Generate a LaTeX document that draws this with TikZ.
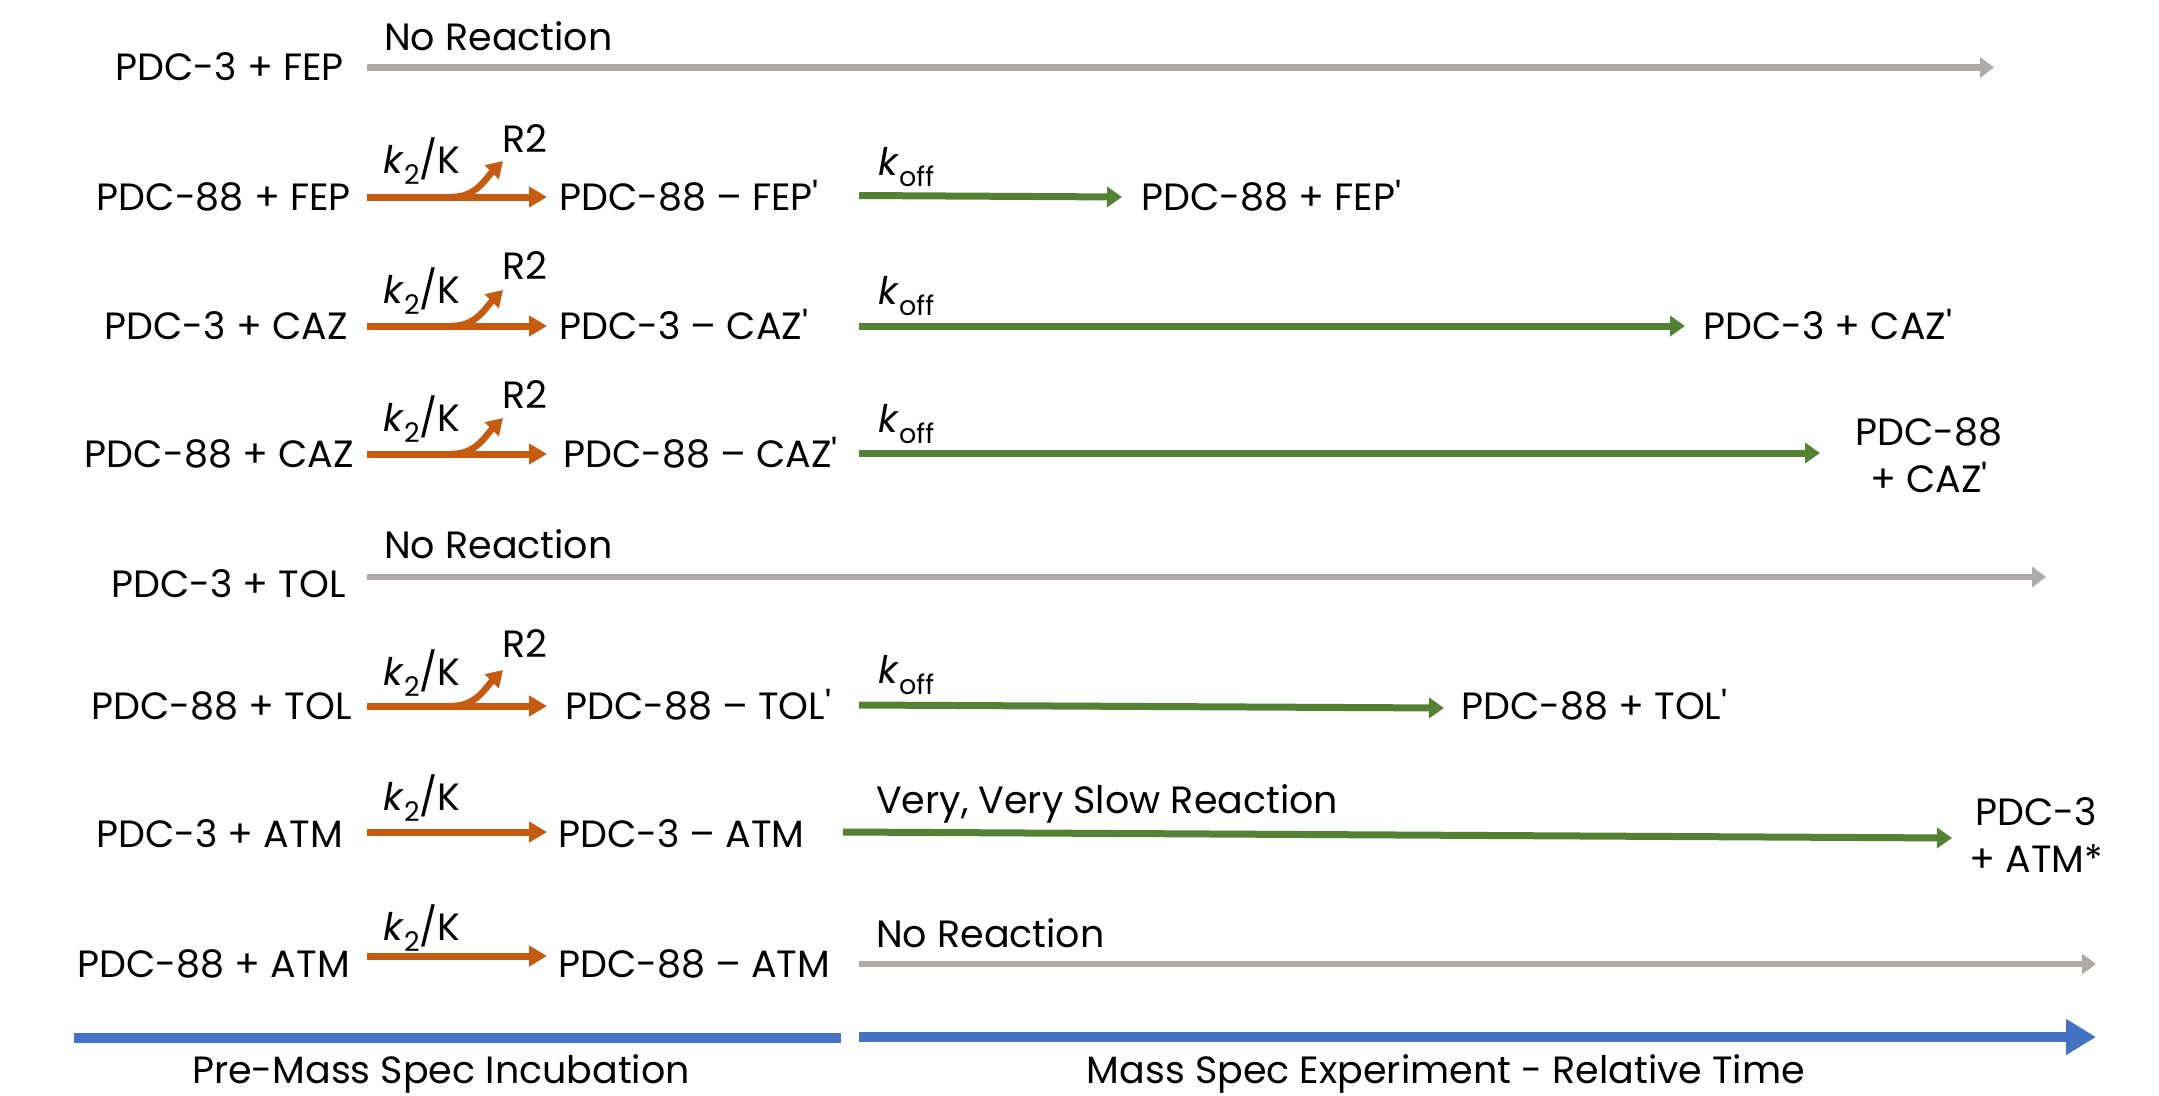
\documentclass[tikz,border=0pt]{standalone}
\usepackage{fontspec}
\setmainfont{Poppins}[Ligatures=TeXOff]
\usetikzlibrary{arrows.meta}
\definecolor{cOr}{HTML}{C55A11}
\definecolor{cGr}{HTML}{548235}
\definecolor{cGy}{HTML}{AEAAAA}
\definecolor{cBl}{HTML}{4472C4}
\newcommand\kk[1]{\textit{k}\raisebox{-0.3em}{\fontsize{27}{27}\selectfont #1}}
\tikzset{
  txt/.style={font=\fontsize{38}{46}\selectfont, inner sep=0pt, text height=27pt, text depth=0pt},
  grayarr/.style={draw=cGy, line width=6.5pt, -{Triangle[length=14pt,width=20pt]}},
  orarr/.style={draw=cOr, line width=7pt, -{Triangle[length=18pt,width=20pt]}},
  orbr/.style={draw=cOr, line width=6.5pt, -{Triangle[length=16pt,width=19pt]}},
  grarr/.style={draw=cGr, line width=7pt, -{Triangle[length=15pt,width=20pt]}},
  blbar/.style={draw=cBl, line width=10pt},
  blarr/.style={draw=cBl, line width=10pt, -{Triangle[length=30pt,width=34pt]}},
}
\begin{document}
\begin{tikzpicture}[x=1pt,y=-1pt]
\useasboundingbox (0,0) rectangle (2159,1095);

% Row 1
\node[txt,anchor=east] (l1) at (344,67) {PDC-3 + FEP};
\node[txt,anchor=west] (n1) at (384,37) {No Reaction};
\coordinate (g1s) at (367,67.5); \coordinate (g1e) at (1994,67.5);
\draw[grayarr] (g1s) -- (g1e);

% Row 2
\node[txt,anchor=east] (l2) at (351,197) {PDC-88 + FEP};
\coordinate (o2s) at (367,197); \coordinate (o2e) at (547,197);
\draw[orarr] (o2s) -- (o2e);
\coordinate (b2s) at (452,197); \coordinate (b2e) at (503,161);
\draw[orbr] (b2s) to[out=0,in=225] (b2e);
\node[txt,anchor=west] (k2) at (383,160) {\kk{2}/K};
\node[txt,anchor=west] (r2) at (502,139) {R2};
\node[txt,anchor=west] (m2) at (559,197) {PDC-88 – FEP'};
\coordinate (e2s) at (859,195.5); \coordinate (e2e) at (1122,197);
\draw[grarr] (e2s) -- (e2e);
\node[txt,anchor=west] (f2) at (878,162) {\kk{off}};
\node[txt,anchor=west] (p2) at (1141,197) {PDC-88 + FEP'};

% Row 3
\node[txt,anchor=east] (l3) at (348,326) {PDC-3 + CAZ};
\coordinate (o3s) at (367,326); \coordinate (o3e) at (547,326);
\draw[orarr] (o3s) -- (o3e);
\coordinate (b3s) at (452,326); \coordinate (b3e) at (503,290);
\draw[orbr] (b3s) to[out=0,in=225] (b3e);
\node[txt,anchor=west] (k3) at (383,290) {\kk{2}/K};
\node[txt,anchor=west] (r3) at (502,266) {R2};
\node[txt,anchor=west] (m3) at (559,326) {PDC-3 – CAZ'};
\coordinate (e3s) at (859,326); \coordinate (e3e) at (1685,326);
\draw[grarr] (e3s) -- (e3e);
\node[txt,anchor=west] (f3) at (878,291) {\kk{off}};
\node[txt,anchor=west] (p3) at (1703,326) {PDC-3 + CAZ'};

% Row 4
\node[txt,anchor=east] (l4) at (354,454) {PDC-88 + CAZ};
\coordinate (o4s) at (367,454); \coordinate (o4e) at (547,454);
\draw[orarr] (o4s) -- (o4e);
\coordinate (b4s) at (452,454); \coordinate (b4e) at (503,418);
\draw[orbr] (b4s) to[out=0,in=225] (b4e);
\node[txt,anchor=west] (k4) at (383,418) {\kk{2}/K};
\node[txt,anchor=west] (r4) at (502,395) {R2};
\node[txt,anchor=west] (m4) at (563,454) {PDC-88 – CAZ'};
\coordinate (e4s) at (859,453); \coordinate (e4e) at (1820,453);
\draw[grarr] (e4s) -- (e4e);
\node[txt,anchor=west] (f4) at (878,419) {\kk{off}};
\node[txt] (p4a) at (1929,432) {PDC-88};
\node[txt] (p4b) at (1929,479) {+ CAZ'};

% Row 5
\node[txt,anchor=east] (l5) at (346,584) {PDC-3 + TOL};
\node[txt,anchor=west] (n5) at (384,545) {No Reaction};
\coordinate (g5s) at (367,577); \coordinate (g5e) at (2046,577);
\draw[grayarr] (g5s) -- (g5e);

% Row 6
\node[txt,anchor=east] (l6) at (352,706) {PDC-88 + TOL};
\coordinate (o6s) at (367,706); \coordinate (o6e) at (547,706);
\draw[orarr] (o6s) -- (o6e);
\coordinate (b6s) at (452,706); \coordinate (b6e) at (503,670);
\draw[orbr] (b6s) to[out=0,in=225] (b6e);
\node[txt,anchor=west] (k6) at (383,672) {\kk{2}/K};
\node[txt,anchor=west] (r6) at (502,644) {R2};
\node[txt,anchor=west] (m6) at (565,706) {PDC-88 – TOL'};
\coordinate (e6s) at (859,705); \coordinate (e6e) at (1444,708);
\draw[grarr] (e6s) -- (e6e);
\node[txt,anchor=west] (f6) at (878,670) {\kk{off}};
\node[txt,anchor=west] (p6) at (1461,706) {PDC-88 + TOL'};

% Row 7
\node[txt,anchor=east] (l7) at (343,834) {PDC-3 + ATM};
\coordinate (o7s) at (367,832); \coordinate (o7e) at (547,832);
\draw[orarr] (o7s) -- (o7e);
\node[txt,anchor=west] (k7) at (383,797) {\kk{2}/K};
\node[txt,anchor=west] (m7) at (558,834) {PDC-3 – ATM};
\coordinate (e7s) at (843,832); \coordinate (e7e) at (1952,838);
\draw[grarr] (e7s) -- (e7e);
\node[txt,anchor=west] (v7) at (876,800) {Very, Very Slow Reaction};
\node[txt] (p7a) at (2036,812) {PDC-3};
\node[txt] (p7b) at (2036,859) {+ ATM*};

% Row 8
\node[txt,anchor=east] (l8) at (350,964) {PDC-88 + ATM};
\coordinate (o8s) at (367,956); \coordinate (o8e) at (547,956);
\draw[orarr] (o8s) -- (o8e);
\node[txt,anchor=west] (k8) at (383,927) {\kk{2}/K};
\node[txt,anchor=west] (m8) at (558,964) {PDC-88 – ATM};
\coordinate (g8s) at (859,964); \coordinate (g8e) at (2096,964);
\draw[grayarr] (g8s) -- (g8e);
\node[txt,anchor=west] (n8) at (876,934) {No Reaction};

% Timeline
\coordinate (t1s) at (74,1038); \coordinate (t1e) at (841,1038);
\draw[blbar] (t1s) -- (t1e);
\coordinate (t2s) at (859,1037); \coordinate (t2e) at (2096,1037);
\draw[blarr] (t2s) -- (t2e);
\node[txt] (ta) at (441,1070) {Pre-Mass Spec Incubation};
\node[txt] (tb) at (1446,1070) {Mass Spec Experiment - Relative Time};
\end{tikzpicture}
\end{document}
